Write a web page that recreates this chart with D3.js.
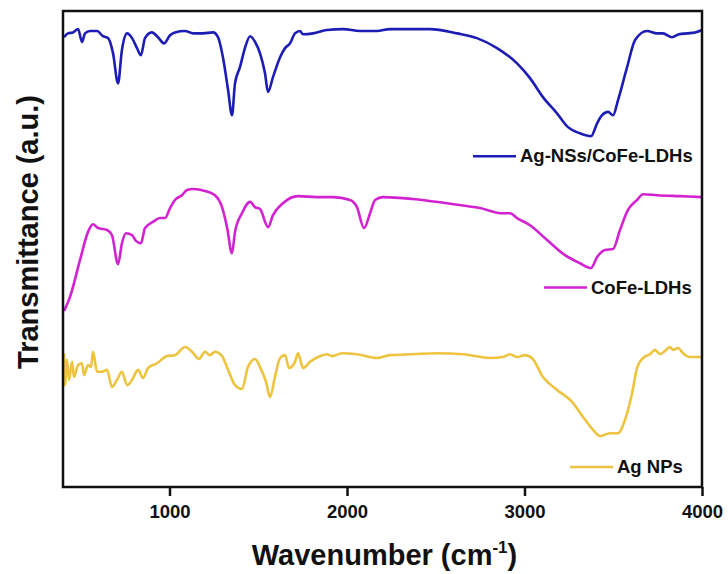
<!DOCTYPE html>
<html>
<head>
<meta charset="utf-8">
<script src="https://cdn.jsdelivr.net/npm/d3@7/dist/d3.min.js"></script>
<style>
  html, body { margin: 0; padding: 0; background: #fff; }
  svg { display: block; }
  text { font-family: "Liberation Sans", Arial, sans-serif; font-weight: bold; fill: #111; }
</style>
</head>
<body>
<svg id="chart" width="728" height="574"></svg>
<script>
// FTIR spectra, offset vertically (wavenumber in cm^-1, transmittance in a.u.)
const agNSsWavenumber = [406, 428, 456, 485, 507, 524, 552, 592, 625, 654, 682, 710, 732, 761, 789, 817, 839, 862, 901, 935, 969, 1003, 1031, 1087, 1133, 1189, 1245, 1273, 1301, 1330, 1352, 1369, 1397, 1425, 1454, 1482, 1510, 1538, 1555, 1583, 1623, 1651, 1679, 1707, 1735, 1752, 1809, 1887, 1978, 2073, 2169, 2242, 2468, 2620, 2732, 2845, 2958, 3031, 3104, 3183, 3245, 3313, 3375, 3409, 3437, 3471, 3499, 3527, 3578, 3623, 3690, 3747, 3780, 3831, 3870, 3916, 3961, 4000];
const agNSsT = [94.5, 95.3, 95.5, 96.2, 93.5, 95.3, 95.8, 95.8, 94.7, 94.3, 91.1, 84.8, 91.8, 95.3, 94.3, 92.2, 90.7, 94.3, 95.5, 94.5, 93.2, 94.9, 95.5, 95.8, 95.3, 95.3, 95.5, 94.5, 90.3, 83.4, 78.1, 84.8, 88.2, 92.2, 94.7, 93.5, 91.1, 86.9, 83.0, 86.1, 90.3, 92.2, 93.2, 95.3, 95.8, 95.1, 95.3, 96.0, 96.2, 95.8, 95.8, 96.2, 96.2, 95.3, 94.3, 92.2, 89.0, 85.9, 81.9, 78.5, 75.6, 74.3, 73.7, 76.4, 78.1, 78.8, 78.1, 81.3, 88.2, 93.9, 95.8, 95.3, 95.3, 94.5, 95.1, 95.3, 95.5, 96.0];

const coFeWavenumber = [406, 439, 496, 541, 569, 597, 648, 676, 710, 732, 755, 789, 811, 839, 862, 907, 946, 975, 1003, 1031, 1070, 1099, 1133, 1200, 1256, 1296, 1324, 1352, 1369, 1408, 1454, 1482, 1510, 1555, 1583, 1639, 1724, 1831, 1921, 2017, 2056, 2096, 2130, 2158, 2203, 2372, 2563, 2749, 2879, 2918, 2958, 3031, 3127, 3228, 3313, 3375, 3409, 3454, 3499, 3538, 3583, 3634, 3668, 3747, 3876, 4000];
const coFeT = [37.0, 39.9, 47.7, 53.6, 55.2, 54.4, 54.0, 52.9, 46.8, 51.2, 53.3, 52.9, 51.7, 51.2, 54.4, 55.7, 56.5, 56.5, 58.6, 60.3, 61.3, 62.4, 62.6, 62.2, 61.3, 58.8, 54.6, 49.1, 53.6, 57.5, 59.9, 58.8, 58.4, 54.6, 57.1, 59.6, 61.1, 60.9, 60.9, 60.3, 58.8, 54.4, 57.5, 60.3, 60.9, 60.5, 59.6, 58.6, 57.5, 57.5, 56.5, 55.0, 51.9, 48.7, 47.0, 46.0, 48.3, 49.8, 50.0, 54.0, 58.2, 60.3, 61.5, 61.3, 61.1, 60.9];

const agNPsWavenumber = [406, 411, 423, 434, 451, 462, 485, 507, 518, 541, 558, 569, 592, 620, 648, 676, 704, 732, 761, 789, 823, 851, 879, 930, 986, 1031, 1087, 1127, 1166, 1200, 1228, 1256, 1296, 1330, 1369, 1408, 1442, 1482, 1510, 1544, 1566, 1594, 1623, 1651, 1673, 1707, 1724, 1752, 1792, 1837, 1887, 1916, 1972, 2056, 2169, 2242, 2372, 2507, 2654, 2806, 2879, 2918, 2958, 3003, 3042, 3104, 3183, 3268, 3330, 3386, 3426, 3482, 3527, 3566, 3606, 3634, 3668, 3707, 3735, 3764, 3792, 3820, 3837, 3865, 3893, 3933, 4000];
const agNPsT = [28.1, 21.4, 26.7, 22.5, 26.3, 23.1, 25.6, 26.0, 23.5, 25.6, 25.2, 28.4, 24.2, 24.2, 24.6, 21.0, 22.5, 24.2, 21.4, 22.5, 24.6, 22.9, 25.0, 26.0, 27.5, 27.7, 29.4, 28.4, 26.9, 28.4, 27.7, 28.4, 27.5, 24.6, 21.4, 20.6, 25.2, 26.9, 25.2, 22.1, 18.9, 23.1, 27.1, 27.7, 25.0, 26.3, 28.1, 25.0, 26.3, 27.3, 27.9, 27.5, 28.1, 27.9, 27.1, 27.7, 27.9, 28.1, 27.9, 27.1, 27.3, 27.9, 27.3, 27.7, 27.1, 23.1, 20.4, 17.9, 14.7, 12.0, 10.7, 11.3, 11.3, 14.1, 19.7, 25.0, 27.1, 27.9, 28.8, 27.9, 28.6, 29.4, 28.8, 29.2, 28.1, 27.3, 27.3];

const seriesNames = ["Ag-NSs/CoFe-LDHs", "CoFe-LDHs", "Ag NPs"];
const seriesColors = ["#1d1db5", "#d222d2", "#eec33f"];
const xTicks = [1000, 2000, 3000, 4000];
// legend anchor level for each series, in transmittance units
const legendLevels = [69.5, 41.9, 4.2];

const series = [
  { name: seriesNames[0], color: seriesColors[0], x: agNSsWavenumber, y: agNSsT, legend: legendLevels[0] },
  { name: seriesNames[1], color: seriesColors[1], x: coFeWavenumber, y: coFeT, legend: legendLevels[1] },
  { name: seriesNames[2], color: seriesColors[2], x: agNPsWavenumber, y: agNPsT, legend: legendLevels[2] }
];

const margin = { left: 63, right: 26, top: 11, bottom: 87 };
const W = 728, H = 574;
const svg = d3.select("#chart");

const x = d3.scaleLinear().domain([400, 4000]).range([margin.left, W - margin.right]);
const y = d3.scaleLinear().domain([0, 100]).range([H - margin.bottom, margin.top]);

const line = d3.line()
  .x(d => x(d[0]))
  .y(d => y(d[1]))
  .curve(d3.curveMonotoneX);

const plot = svg.append("g");
plot.append("defs").append("clipPath").attr("id", "clip")
  .append("rect")
  .attr("x", x(400)).attr("y", y(100))
  .attr("width", x(4000) - x(400)).attr("height", y(0) - y(100));

const curves = plot.append("g").attr("clip-path", "url(#clip)");
series.forEach(s => {
  curves.append("path")
    .datum(s.x.map((v, i) => [v, s.y[i]]))
    .attr("fill", "none")
    .attr("stroke", s.color)
    .attr("stroke-width", 2.6)
    .attr("stroke-linejoin", "round")
    .attr("d", line);
});

// frame
svg.append("rect")
  .attr("x", x(400)).attr("y", y(100))
  .attr("width", x(4000) - x(400)).attr("height", y(0) - y(100))
  .attr("fill", "none").attr("stroke", "#111").attr("stroke-width", 2.5);

// bottom axis: outward ticks only, no domain line (the frame draws it)
const xAxis = d3.axisBottom(x).tickValues(xTicks).tickSize(9).tickPadding(9).tickFormat(d3.format("d"));
const gx = svg.append("g").attr("transform", `translate(0,${y(0)})`).call(xAxis);
gx.select(".domain").remove();
gx.selectAll(".tick line").attr("stroke", "#111").attr("stroke-width", 2.5);
gx.selectAll(".tick text")
  .attr("font-family", "'Liberation Sans', Arial, sans-serif")
  .attr("font-weight", "bold")
  .attr("font-size", 18.5)
  .attr("fill", "#111");

// legend entries, one next to each curve
series.forEach(s => {
  const ly = y(s.legend);
  const tx = s.name === seriesNames[0] ? 520 : (s.name === seriesNames[1] ? 591 : 617);
  svg.append("line")
    .attr("x1", tx - 47).attr("x2", tx - 4)
    .attr("y1", ly).attr("y2", ly)
    .attr("stroke", s.color).attr("stroke-width", 2.6);
  svg.append("text")
    .attr("x", tx).attr("y", ly + 6)
    .attr("font-size", 18.5)
    .text(s.name);
});

// axis titles
const xt = svg.append("text")
  .attr("x", (x(400) + x(4000)) / 2 + 2).attr("y", 565)
  .attr("text-anchor", "middle")
  .attr("font-size", 29);
xt.append("tspan").text("Wavenumber (cm");
xt.append("tspan").attr("font-size", 17).attr("dy", -12).text("-1");
xt.append("tspan").attr("dy", 12).text(")");

svg.append("text")
  .attr("transform", "translate(38,232) rotate(-90)")
  .attr("text-anchor", "middle")
  .attr("font-size", 29)
  .text("Transmittance (a.u.)");
</script>
</body>
</html>
